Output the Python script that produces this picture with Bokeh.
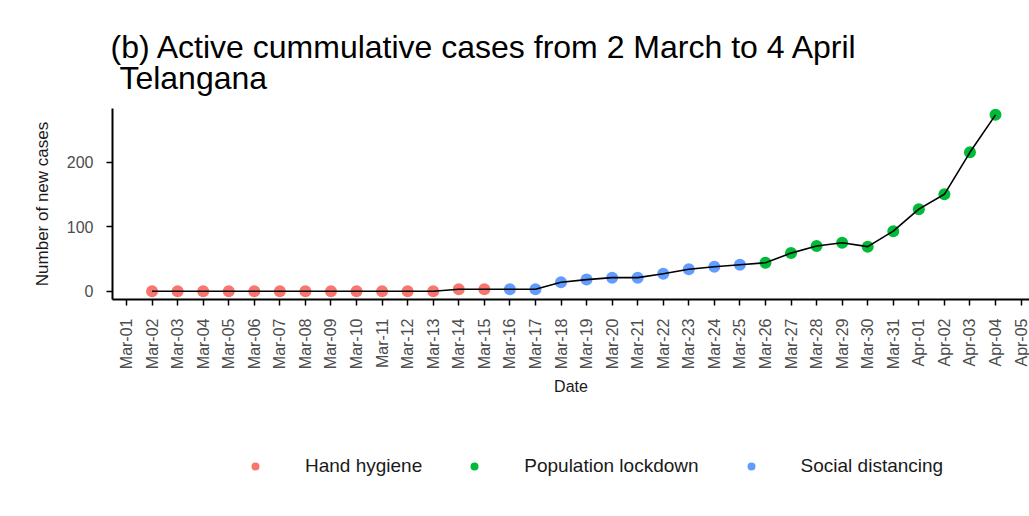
import math
from bokeh.plotting import figure
from bokeh.models import ColumnDataSource, FixedTicker, Legend, LegendItem, Range1d
from bokeh.layouts import column
from bokeh.embed import file_html
from bokeh.resources import INLINE

# ---------------- data ----------------
tick_labels = [
    "Mar-01", "Mar-02", "Mar-03", "Mar-04", "Mar-05", "Mar-06", "Mar-07", "Mar-08",
    "Mar-09", "Mar-10", "Mar-11", "Mar-12", "Mar-13", "Mar-14", "Mar-15", "Mar-16",
    "Mar-17", "Mar-18", "Mar-19", "Mar-20", "Mar-21", "Mar-22", "Mar-23", "Mar-24",
    "Mar-25", "Mar-26", "Mar-27", "Mar-28", "Mar-29", "Mar-30", "Mar-31", "Apr-01",
    "Apr-02", "Apr-03", "Apr-04", "Apr-05",
]

dates = [
    "Mar-02", "Mar-03", "Mar-04", "Mar-05", "Mar-06", "Mar-07", "Mar-08", "Mar-09",
    "Mar-10", "Mar-11", "Mar-12", "Mar-13", "Mar-14", "Mar-15", "Mar-16", "Mar-17",
    "Mar-18", "Mar-19", "Mar-20", "Mar-21", "Mar-22", "Mar-23", "Mar-24", "Mar-25",
    "Mar-26", "Mar-27", "Mar-28", "Mar-29", "Mar-30", "Mar-31", "Apr-01", "Apr-02",
    "Apr-03", "Apr-04",
]

cases = [
    0, 0, 0, 0, 0, 0, 0, 0,
    0, 0, 0, 0, 3, 3, 3, 3,
    14, 18, 21, 21, 27, 34, 38, 41,
    44, 59, 70, 75, 69, 93, 127, 150,
    215, 273,
]

HH, SD, PL = "Hand hygiene", "Social distancing", "Population lockdown"
measure = [
    HH, HH, HH, HH, HH, HH, HH, HH,
    HH, HH, HH, HH, HH, HH, SD, SD,
    SD, SD, SD, SD, SD, SD, SD, SD,
    PL, PL, PL, PL, PL, PL, PL, PL,
    PL, PL,
]

legend_order = [HH, PL, SD]
colors = {HH: "#F8766D", PL: "#00BA38", SD: "#619CFF"}

y_ticks = [0, 100, 200]

FONT = "Liberation Sans"

# ---------------- main chart ----------------
p = figure(
    width=1029, height=400,
    x_range=Range1d(-0.548, 35.33), y_range=Range1d(-12.8, 282.8),
    output_backend="svg", toolbar_location=None,
    min_border_left=112, min_border_right=0, min_border_top=108, min_border_bottom=101,
)
p.outline_line_color = None
p.xgrid.visible = False
p.ygrid.visible = False
p.background_fill_color = "white"
p.border_fill_color = "white"

xs = [tick_labels.index(d) for d in dates]

sources = {}
for m in legend_order:
    sources[m] = ColumnDataSource(dict(
        x=[x for x, mm in zip(xs, measure) if mm == m],
        y=[c for c, mm in zip(cases, measure) if mm == m],
    ))
    p.scatter("x", "y", source=sources[m], size=12, color=colors[m], line_color=None)

p.line(xs, cases, line_color="black", line_width=1.6)

p.xaxis.ticker = FixedTicker(ticks=list(range(len(tick_labels))))
p.xaxis.major_label_overrides = {i: t for i, t in enumerate(tick_labels)}
p.xaxis.major_label_orientation = math.pi / 2
p.yaxis.ticker = FixedTicker(ticks=y_ticks)

for ax in (p.xaxis[0], p.yaxis[0]):
    ax.axis_line_color = "black"
    ax.axis_line_width = 2
    ax.major_tick_line_color = "black"
    ax.major_tick_line_width = 1.5
    ax.major_tick_out = 6
    ax.major_tick_in = 0
    ax.minor_tick_line_color = None
    ax.major_label_text_font = FONT
    ax.major_label_text_font_size = "16px"
    ax.major_label_text_color = "#4D4D4D"
    ax.axis_label_text_font = FONT
    ax.axis_label_text_font_size = "16px"
    ax.axis_label_text_font_style = "normal"
    ax.axis_label_text_color = "#1A1A1A"

p.yaxis.axis_label_text_font_size = "17px"
p.xaxis.axis_label = "Date"
p.yaxis.axis_label = "Number of new cases"
p.xaxis.major_label_standoff = 13
p.xaxis.axis_label_standoff = 6
p.yaxis.major_label_standoff = 13
p.yaxis.axis_label_standoff = 12

p.title.text = "(b) Active cummulative cases from 2 March to 4 April\n\u00a0Telangana"
p.title.text_font = FONT
p.title.text_font_size = "32px"
p.title.text_font_style = "normal"
p.title.text_color = "black"
p.title.text_line_height = 0.88
p.title.align = "left"
p.title.offset = -2
p.title.standoff = 24

# ---------------- legend strip ----------------
# same series sources; the y range is chosen so that no data point falls inside it
leg = figure(
    width=1029, height=116,
    x_range=Range1d(0, 1029), y_range=Range1d(-1116, -1000),
    output_backend="svg", toolbar_location=None,
    min_border_left=0, min_border_right=0, min_border_top=0, min_border_bottom=0,
)
leg.axis.visible = False
leg.xgrid.visible = False
leg.ygrid.visible = False
leg.outline_line_color = None
leg.background_fill_color = "white"
leg.border_fill_color = "white"

leg_renderers = {
    m: leg.scatter("x", "y", source=sources[m], size=12, color=colors[m], line_color=None)
    for m in legend_order
}

legend = Legend(
    items=[LegendItem(label=m, renderers=[leg_renderers[m]]) for m in legend_order],
    orientation="horizontal", location=(133, 39),
    glyph_width=20, glyph_height=20, label_standoff=40, spacing=42,
    padding=0, margin=0, border_line_color=None, background_fill_alpha=0,
    label_text_font=FONT, label_text_font_size="19px", label_text_color="#1A1A1A",
)
leg.add_layout(legend)

layout = column(p, leg, spacing=0)

open("out.html", "w").write(file_html(layout, INLINE))
